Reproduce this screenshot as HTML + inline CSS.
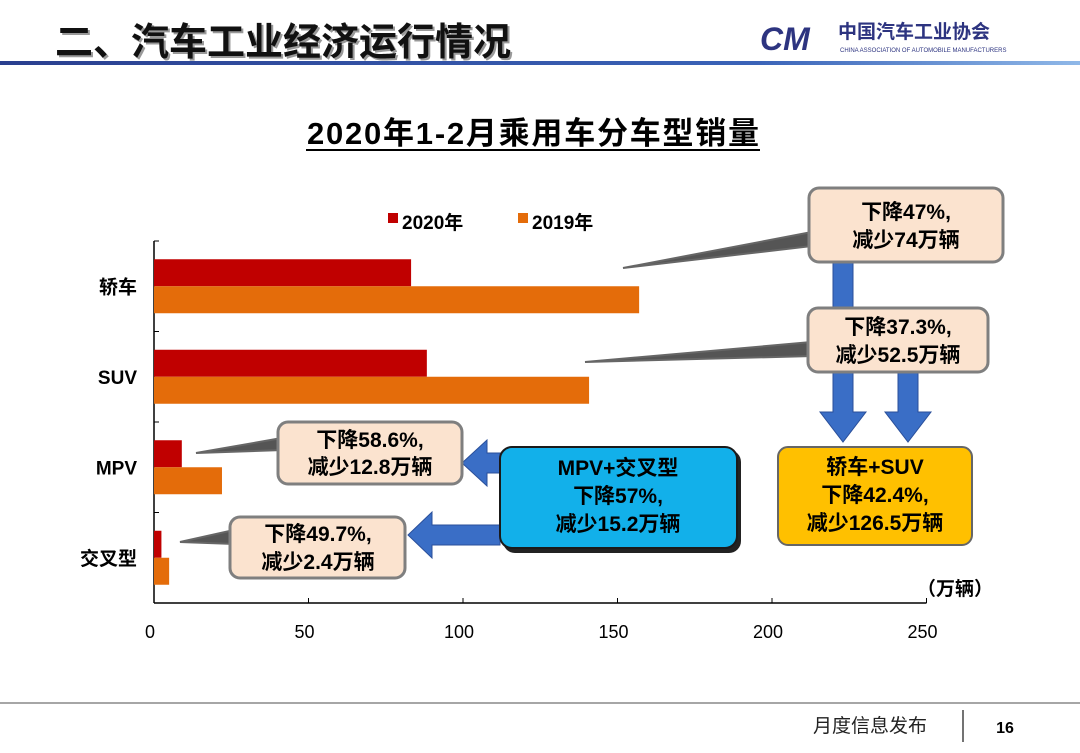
<!DOCTYPE html>
<html><head><meta charset="utf-8"><style>
body{margin:0;background:#fff;}
svg text{font-family:"Liberation Sans","Noto Sans CJK SC",sans-serif;}
</style></head><body>
<svg width="1080" height="748" viewBox="0 0 1080 748" xmlns="http://www.w3.org/2000/svg">
<defs>
<linearGradient id="hl" x1="0" x2="1"><stop offset="0" stop-color="#2a3f8f"/><stop offset="0.7" stop-color="#3a63b8"/><stop offset="1" stop-color="#8fb8e8"/></linearGradient>
</defs>
<text x="57" y="57" font-size="38" font-weight="bold" fill="#999">二、汽车工业经济运行情况</text>
<text x="55" y="55" font-size="38" font-weight="bold" fill="#111">二、汽车工业经济运行情况</text>
<rect x="0" y="61" width="1080" height="4" fill="url(#hl)"/>
<g>
<text x="760" y="50" font-size="32" font-weight="bold" font-style="italic" fill="#2d3480">CM</text>
<text x="838" y="38" font-size="19" font-weight="bold" fill="#2d3480">中国汽车工业协会</text>
<text x="840" y="52" font-size="6" fill="#2d3480">CHINA ASSOCIATION OF AUTOMOBILE MANUFACTURERS</text>
</g>
<text x="533" y="144" font-size="31" font-weight="bold" text-anchor="middle" fill="#000" textLength="452">2020年1-2月乘用车分车型销量</text>
<line x1="306" y1="150" x2="760" y2="150" stroke="#000" stroke-width="2"/>
<g>
<rect x="388" y="213" width="10" height="10" fill="#c00000"/>
<text x="402" y="229" font-size="19" font-weight="bold" fill="#000">2020年</text>
<rect x="518" y="213" width="10" height="10" fill="#e46c0a"/>
<text x="532" y="229" font-size="19" font-weight="bold" fill="#000">2019年</text>
</g>
<g id="chart"></g>
<text x="955" y="595" font-size="19" font-weight="bold" text-anchor="middle">（万辆）</text>

<g stroke="#666" stroke-width="2" fill="#555">
<polygon points="623,268 812,232 812,246"/>
<polygon points="585,362 812,342 812,356"/>
<polygon points="196,453 282,438 282,450"/>
<polygon points="180,542 234,530 234,544"/>
</g>
<g fill="#3a6ec6" stroke="#2a4f9a" stroke-width="1">
<polygon points="833,262 853,262 853,412 866,412 843,442 820,412 833,412"/>
<polygon points="898,372 918,372 918,412 931,412 908,442 885,412 898,412"/>
<polygon points="500,453 487,453 487,440 462,463 487,486 487,473 500,473"/>
<polygon points="500,525 432,525 432,512 408,535 432,558 432,545 500,545"/>
</g>
<g font-size="21" font-weight="bold" text-anchor="middle">
<rect x="809" y="188" width="194" height="74" rx="10" fill="#fbe3cf" stroke="#7f7f7f" stroke-width="3"/>
<text x="906" y="219">下降47%,</text><text x="906" y="247">减少74万辆</text>
<rect x="808" y="308" width="180" height="64" rx="10" fill="#fbe3cf" stroke="#7f7f7f" stroke-width="3"/>
<text x="898" y="334">下降37.3%,</text><text x="898" y="362">减少52.5万辆</text>
<rect x="278" y="422" width="184" height="62" rx="10" fill="#fbe3cf" stroke="#7f7f7f" stroke-width="3"/>
<text x="370" y="447">下降58.6%,</text><text x="370" y="474">减少12.8万辆</text>
<rect x="230" y="517" width="175" height="61" rx="10" fill="#fbe3cf" stroke="#7f7f7f" stroke-width="3"/>
<text x="318" y="541">下降49.7%,</text><text x="318" y="569">减少2.4万辆</text>
<rect x="503" y="450" width="238" height="103" rx="12" fill="#222"/>
<rect x="500" y="447" width="237" height="101" rx="12" fill="#12b0ea" stroke="#1a1a1a" stroke-width="2"/>
<text x="618" y="475">MPV+交叉型</text><text x="618" y="503">下降57%,</text><text x="618" y="531">减少15.2万辆</text>
<rect x="778" y="447" width="194" height="98" rx="10" fill="#ffc000" stroke="#666" stroke-width="2"/>
<text x="875" y="474">轿车+SUV</text><text x="875" y="502">下降42.4%,</text><text x="875" y="530">减少126.5万辆</text>
</g>
<line x1="0" y1="703" x2="1080" y2="703" stroke="#888" stroke-width="1.5"/>
<text x="870" y="732" font-size="19" text-anchor="middle" fill="#222">月度信息发布</text>
<line x1="963" y1="710" x2="963" y2="742" stroke="#444" stroke-width="1.5"/>
<text x="1005" y="733" font-size="16" font-weight="bold" text-anchor="middle">16</text>
</svg>
<script>
const categories=["轿车","SUV","MPV","交叉型"];
const values2020=[83.2,88.3,9,2.4];
const values2019=[157,140.8,22,4.9];
const ticks=[0,50,100,150,200,250];
const x0=154,pxPer=3.09,yTop=241,yBot=603;
const xs=v=>x0+v*pxPer;
const band=(yBot-yTop)/categories.length;
const g=document.getElementById('chart');
const NS='http://www.w3.org/2000/svg';
function mk(t,a){const e=document.createElementNS(NS,t);for(const k in a)e.setAttribute(k,a[k]);g.appendChild(e);return e;}
let ax=mk('line',{x1:x0,y1:yTop,x2:x0,y2:yBot,stroke:'#000','stroke-width':1.5});


let bx=mk('line',{x1:x0,y1:yBot,x2:xs(250),y2:yBot,stroke:'#000','stroke-width':1.5});


for(let i=0;i<=categories.length;i++){mk('line',{x1:x0,y1:yTop+i*band,x2:x0+5,y2:yTop+i*band,stroke:'#000'});}
ticks.forEach(t=>{
  mk('line',{x1:xs(t),y1:yBot,x2:xs(t),y2:yBot-5,stroke:'#000'});
  const tx=mk('text',{x:xs(t)-4,y:638,'font-size':18,'text-anchor':'middle'});tx.textContent=t;
  
  
});
categories.forEach((c,i)=>{
  const yc=yTop+band*i+band/2;
  const r1=mk('rect',{x:x0,y:yc-27,width:xs(values2020[i])-x0,height:27,fill:'#c00000'});
  
  
  const r2=mk('rect',{x:x0,y:yc,width:xs(values2019[i])-x0,height:27,fill:'#e46c0a'});
  
  
  const t=mk('text',{x:137,y:yc+7,'font-size':19,'font-weight':'bold','text-anchor':'end'});t.textContent=c;
  
  
});
</script>
</body></html>
